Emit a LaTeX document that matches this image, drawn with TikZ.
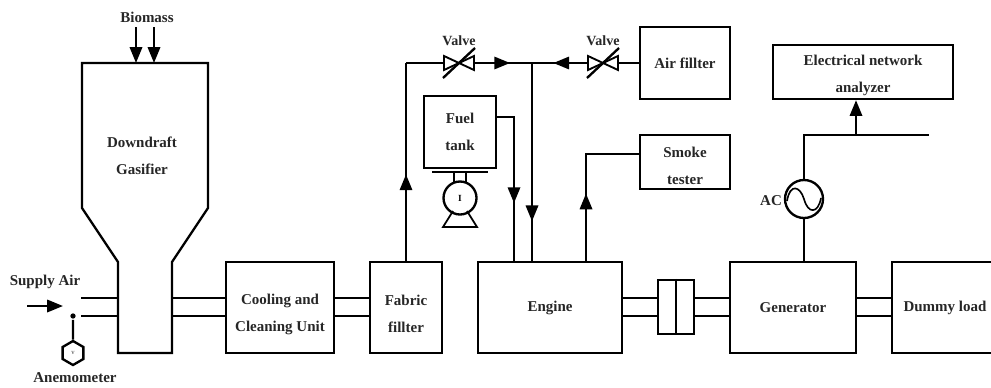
\documentclass[tikz,border=0pt]{standalone}
\usepackage{fontspec}
\setmainfont{Liberation Serif}
\usepackage{tikz}
\usetikzlibrary{shapes,shapes.geometric}
\usetikzlibrary{arrows.meta}
\usetikzlibrary{decorations,decorations.markings}
\usetikzlibrary{calc}
\newcommand{\pxu}{0.03cm}
\newcommand{\dropline}[1]{\rule{0pt}{#1}}
\tikzstyle{plant}=[line width=2pt, line join=miter, >={Triangle[length=13.5pt,width=10.5pt]}]
\tikzstyle{lab}=[font=\fontsize{12.8}{14}\selectfont\bfseries, text=black!85, inner sep=0pt, align=center]
\tikzstyle{block}=[lab, draw, rectangle, inner sep=0pt]
\tikzset{mid>/.style={decoration={markings, mark=at position #1 with {\arrow{>}}}, postaction={decorate}}}
\newcommand{\valve}[1]{
\draw[fill=white, line width=1.6pt] ($(#1)+(-15,-7)$) -- ($(#1)+(15,7)$) -- ($(#1)+(15,-7)$) -- ($(#1)+(-15,7)$) -- cycle;
\draw ($(#1)+(-16,15)$) -- ($(#1)+(16,-15)$);
}
\newcommand{\pipes}[2]{
\draw (#1 |- pipeu) -- (#2 |- pipeu);
\draw (#1 |- piped) -- (#2 |- piped);
}
\begin{document}
\begin{tikzpicture}[x=\pxu, y=-\pxu, plant]
\path[use as bounding box, clip] (0,0) rectangle (991,387);
\coordinate (pipeu) at (0,298);
\coordinate (piped) at (0,316);
% gasifier outline
\coordinate (gasnl) at (118,262);
\coordinate (gasnr) at (172,262);
\coordinate (gasin) at (81,0);
\draw (82,63) -- (208,63) -- (208,208) -- (gasnr) -- (172,353) -- (118,353) -- (gasnl) -- (82,208) -- cycle;
\node[lab] (gasifier) at (142,156) {Downdraft\\[9pt]Gasifier};
\node[lab] (biomass) at (147,17) {Biomass};
\coordinate (bioa) at (136,27);
\coordinate (biob) at (154,27);
\draw[->] (bioa) -- (136,63);
\draw[->] (biob) -- (154,63);
\pipes{gasin}{gasnl}
\node[lab] (supply) at (45,282) {Supply Air};
\coordinate (airin) at (27,306);
\coordinate (airout) at (63,306);
\draw[->] (airin) -- (airout);
\node[circle, fill, inner sep=0pt, minimum size=4.5pt] (probe) at (73,316) {};
\node[draw, regular polygon, regular polygon sides=6, shape border rotate=90, inner sep=0pt, minimum size=24*\pxu, font=\fontsize{4}{4}\selectfont] (anemo) at (73,353) {V};
\draw (probe) -- (anemo);
\node[lab] (anemolab) at (75,378) {Anemometer};
% blocks
\node[block, minimum width=108*\pxu, minimum height=91*\pxu] (cooling) at (280,307.5) {\dropline{20pt}Cooling and\\[9pt]Cleaning Unit};
\node[block, minimum width=72*\pxu, minimum height=91*\pxu] (fabric) at (406,307.5) {\dropline{20pt}Fabric\\[9pt]fillter};
\node[block, minimum width=144*\pxu, minimum height=91*\pxu] (engine) at (550,307.5) {Engine};
\node[block, minimum width=126*\pxu, minimum height=91*\pxu] (generator) at (793,307.5) {Generator};
\node[block, minimum width=106*\pxu, minimum height=91*\pxu] (dummy) at (945,307.5) {Dummy load};
\node[block, minimum width=36*\pxu, minimum height=54*\pxu] (coupling) at (676,307) {};
\draw (coupling.north) -- (coupling.south);
\pipes{gasnr}{cooling.west}
\pipes{cooling.east}{fabric.west}
\pipes{engine.east}{coupling.west}
\pipes{coupling.east}{generator.west}
\pipes{generator.east}{dummy.west}
\node[block, minimum width=90*\pxu, minimum height=72*\pxu] (airfilter) at (685,63) {Air fillter};
\node[block, minimum width=90*\pxu, minimum height=54*\pxu] (smoke) at (685,162) {\dropline{15pt}Smoke\\[9pt]tester};
\node[block, minimum width=180*\pxu, minimum height=54*\pxu] (analyzer) at (863,72) {\dropline{15pt}Electrical network\\[9pt]analyzer};
\node[block, minimum width=72*\pxu, minimum height=72*\pxu] (tank) at (460,132) {Fuel\\[9pt]tank};
% air lines
\coordinate (valvea) at (459,63);
\coordinate (valveb) at (603,63);
\coordinate (tee) at (532,63);
\draw[mid>=.437] (fabric.north) -- (fabric.north |- tee);
\draw (fabric.north |- tee) -- (valvea);
\draw[mid>=.7] (valvea) -- (tee);
\draw (airfilter.west) -- (valveb);
\draw[mid>=.7] (valveb) -- (tee);
\draw[mid>=.8] (tee) -- (tee |- engine.north);
\valve{valvea}
\valve{valveb}
\node[lab, font=\fontsize{12}{14}\selectfont\bfseries] (valvealab) at (459,41) {Valve};
\node[lab, font=\fontsize{12}{14}\selectfont\bfseries] (valveblab) at (603,41) {Valve};
% fuel and smoke
\coordinate (fuelout) at (tank.east |- 0,117);
\coordinate (fuelin) at (514,262);
\draw[mid>=.636] (fuelout) -| (fuelin);
\coordinate (smokeout) at (586,262);
\coordinate (smokein) at (smoke.west |- 0,154);
\draw[mid>=.426] (smokeout) |- (smokein);
% pump
\node[draw, circle, inner sep=0pt, minimum size=33*\pxu, font=\fontsize{8}{8}\selectfont\bfseries] (pump) at (460,198) {I};
\coordinate (bara) at (432,172);
\coordinate (barb) at (488,172);
\draw (bara) -- (barb);
\draw[line width=1.2pt] (454,172) -- (454,183);
\draw[line width=1.2pt] (466,172) -- (466,183);
\draw[line width=1.5pt] (453,211) -- (443,227) -- (477,227) -- (467,211);
% electrical
\node[draw, circle, inner sep=0pt, minimum size=38*\pxu] (ac) at (804,199) {};
\draw (ac.south) -- (generator.north -| ac);
\coordinate (busl) at (804,135);
\coordinate (busr) at (929,135);
\coordinate (busm) at (856,135);
\draw (ac.north) -- (busl) -- (busr);
\draw[->] (busm) -- (busm |- analyzer.south);
\draw[line width=1.4pt] (787,201) .. controls (790,183) and (800,186) .. (804,199) .. controls (808,214) and (818,214) .. (821,198);
\node[lab] (aclab) at (771,201) {AC};
\end{tikzpicture}
\end{document}
